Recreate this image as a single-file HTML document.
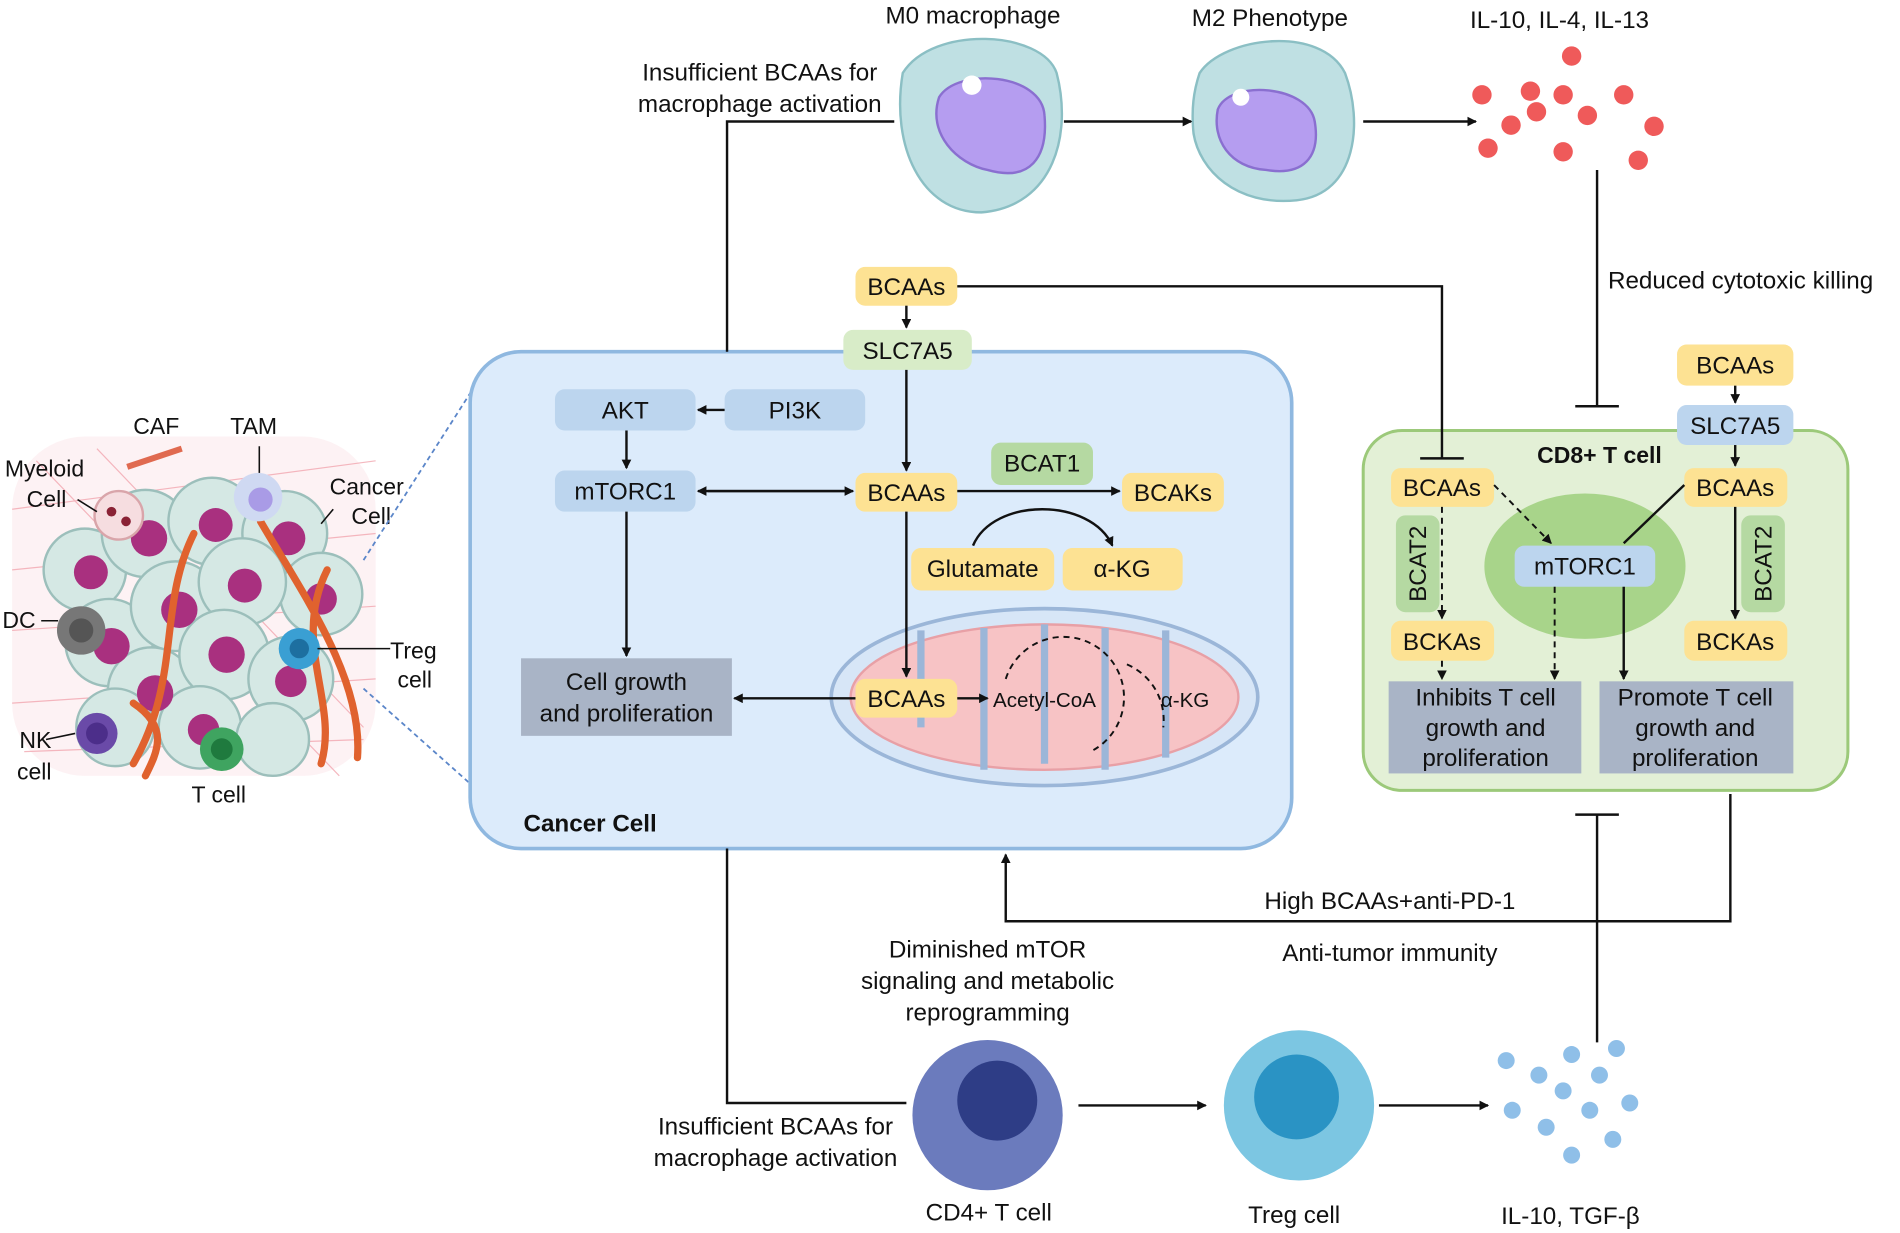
<!DOCTYPE html>
<html><head><meta charset="utf-8"><style>
html,body{margin:0;padding:0;background:#fff;}
svg{display:block;}
text{font-family:"Liberation Sans",Arial,sans-serif;fill:#111;}
</style></head><body>
<svg width="1900" height="1233" viewBox="0 0 1568 1017" xmlns="http://www.w3.org/2000/svg">
<defs>
<marker id="a" markerWidth="8" markerHeight="8" refX="7" refY="4" orient="auto" markerUnits="userSpaceOnUse"><path d="M0,0 L8,4 L0,8 z" fill="#111"/></marker>
</defs>
<style>.y{fill:#fde293}.b{fill:#bcd5ee}.g{fill:#b5d9a2}.l{stroke:#111;stroke-width:2;fill:none}.d{stroke:#111;stroke-width:1.6;fill:none;stroke-dasharray:5,4}.t{font-size:20px}.s{font-size:19px}</style>

<!-- tumor illustration -->
<g>
<rect x="10" y="360" width="300" height="280" fill="#fbe9ec" opacity="0.6" rx="60"/>
<g stroke="#f2a7b0" stroke-width="1" opacity="0.8">
<path d="M10,420 L310,380 M10,470 L310,440 M10,520 L310,500 M10,580 L310,560 M20,620 L300,610 M30,380 L280,640 M80,370 L300,600"/>
</g>
<g fill="#d5e8e4" stroke="#9cbfbb" stroke-width="2">
<circle cx="70" cy="470" r="34"/><circle cx="120" cy="440" r="36"/><circle cx="175" cy="430" r="36"/><circle cx="235" cy="440" r="35"/><circle cx="265" cy="490" r="34"/>
<circle cx="90" cy="530" r="36"/><circle cx="145" cy="500" r="37"/><circle cx="200" cy="480" r="36"/><circle cx="125" cy="570" r="36"/><circle cx="185" cy="540" r="37"/><circle cx="240" cy="560" r="35"/><circle cx="95" cy="600" r="32"/><circle cx="165" cy="600" r="34"/><circle cx="225" cy="610" r="30"/>
</g>
<g fill="#a9307f">
<circle cx="75" cy="472" r="14"/><circle cx="123" cy="444" r="15"/><circle cx="178" cy="433" r="14"/><circle cx="238" cy="444" r="14"/><circle cx="265" cy="494" r="13"/><circle cx="92" cy="533" r="15"/><circle cx="148" cy="503" r="15"/><circle cx="202" cy="483" r="14"/><circle cx="128" cy="572" r="15"/><circle cx="187" cy="540" r="15"/><circle cx="240" cy="562" r="13"/><circle cx="168" cy="602" r="13"/>
</g>
<g stroke="#e0622e" stroke-width="6" fill="none" stroke-linecap="round">
<path d="M160,440 C130,500 150,560 110,630"/><path d="M215,430 C250,490 300,560 295,625"/><path d="M270,470 C240,530 280,580 265,630"/><path d="M110,580 C140,600 130,620 120,640"/>
</g>
<circle cx="98" cy="425" r="20" fill="#f6dde0" stroke="#d9a5aa" stroke-width="2"/><circle cx="92" cy="422" r="4" fill="#8a2235"/><circle cx="104" cy="430" r="4" fill="#8a2235"/>
<circle cx="213" cy="410" r="20" fill="#cfd9f2"/><circle cx="215" cy="412" r="10" fill="#a99be6"/>
<circle cx="67" cy="520" r="20" fill="#777"/><circle cx="67" cy="520" r="10" fill="#555"/>
<circle cx="80" cy="605" r="17" fill="#6a4aa8"/><circle cx="80" cy="605" r="9" fill="#4c2e8a"/>
<circle cx="183" cy="618" r="18" fill="#3fa460"/><circle cx="183" cy="618" r="9" fill="#1f7a3e"/>
<circle cx="247" cy="535" r="17" fill="#3a9fd3"/><circle cx="247" cy="535" r="8" fill="#1d6fa0"/>
<path d="M105,385 L150,370" stroke="#e06a50" stroke-width="5"/>
</g>
<g class="s">
<text x="110" y="358">CAF</text><text x="190" y="358">TAM</text>
<text x="4" y="393">Myeloid</text><text x="22" y="418">Cell</text>
<text x="272" y="408">Cancer</text><text x="290" y="432">Cell</text>
<text x="2" y="518">DC</text><text x="322" y="543">Treg</text><text x="328" y="567">cell</text>
<text x="16" y="617">NK</text><text x="14" y="643">cell</text><text x="158" y="662">T cell</text>
</g>
<g stroke="#111" stroke-width="1.3"><path d="M64,412 L80,422"/><path d="M214,368 L214,390"/><path d="M275,420 L265,432"/><path d="M34,512 L48,512"/><path d="M262,535 L322,535"/><path d="M38,610 L62,605"/></g>
<path d="M300,462 L392,318 M300,568 L392,650" stroke="#5b86c9" stroke-width="1.5" stroke-dasharray="4,3"/>

<!-- cancer cell box -->
<rect x="388" y="290" width="678" height="410" rx="42" fill="#dcebfb" stroke="#8fb8e0" stroke-width="3"/>
<text x="432" y="686" style="font-size:20px;font-weight:bold">Cancer Cell</text>

<!-- mitochondria -->
<ellipse cx="862" cy="575" rx="176" ry="73" fill="#d7e6f7" stroke="#9bb6d8" stroke-width="3"/>
<ellipse cx="862" cy="575" rx="160" ry="60" fill="#f7c3c5" stroke="#e8a0a6" stroke-width="2"/>
<g stroke="#9bb6d8" stroke-width="6" fill="none"><path d="M760,520 L760,600 M812,518 L812,635 M862,515 L862,630 M912,518 L912,635 M962,520 L962,625"/></g>
<path d="M830,560 A50,50 0 1,1 900,620" class="d"/><path d="M930,548 A50,50 0 0,1 960,600" class="d"/>

<rect x="706" y="220" width="84" height="32" rx="8" class="y"/><text x="748" y="243" class="t" text-anchor="middle">BCAAs</text>
<rect x="696" y="272" width="106" height="33" rx="8" fill="#d8ecc8"/><text x="749" y="296" class="t" text-anchor="middle">SLC7A5</text>
<rect x="458" y="321" width="116" height="34" rx="8" class="b"/><text x="516" y="345" class="t" text-anchor="middle">AKT</text>
<rect x="598" y="321" width="116" height="34" rx="8" class="b"/><text x="656" y="345" class="t" text-anchor="middle">PI3K</text>
<rect x="458" y="388" width="116" height="34" rx="8" class="b"/><text x="516" y="412" class="t" text-anchor="middle">mTORC1</text>
<rect x="706" y="390" width="84" height="32" rx="8" class="y"/><text x="748" y="413" class="t" text-anchor="middle">BCAAs</text>
<rect x="818" y="365" width="84" height="35" rx="8" class="g"/><text x="860" y="389" class="t" text-anchor="middle">BCAT1</text>
<rect x="926" y="390" width="84" height="32" rx="8" class="y"/><text x="968" y="413" class="t" text-anchor="middle">BCAKs</text>
<rect x="752" y="452" width="118" height="35" rx="8" class="y"/><text x="811" y="476" class="t" text-anchor="middle">Glutamate</text>
<rect x="877" y="452" width="99" height="35" rx="8" class="y"/><text x="926" y="476" class="t" text-anchor="middle">α-KG</text>
<rect x="430" y="543" width="174" height="64" fill="#a9b4c6"/><text x="517" y="569" class="t" text-anchor="middle">Cell growth</text><text x="517" y="595" class="t" text-anchor="middle">and proliferation</text>
<rect x="706" y="560" width="84" height="32" rx="8" class="y"/><text x="748" y="583" class="t" text-anchor="middle">BCAAs</text>
<text x="862" y="583" style="font-size:17px" text-anchor="middle">Acetyl-CoA</text><text x="978" y="583" style="font-size:17px" text-anchor="middle">α-KG</text>

<path d="M748,252 L748,270" class="l" marker-end="url(#a)"/>
<path d="M748,305 L748,388" class="l" marker-end="url(#a)"/>
<path d="M598,338 L576,338" class="l" marker-end="url(#a)"/>
<path d="M517,355 L517,386" class="l" marker-end="url(#a)"/>
<path d="M584,405 L704,405" class="l" marker-end="url(#a)"/><path d="M700,405 L576,405" class="l" marker-end="url(#a)"/>
<path d="M790,405 L924,405" class="l" marker-end="url(#a)"/>
<path d="M803,450 C820,410 900,410 918,450" class="l" marker-end="url(#a)"/>
<path d="M517,422 L517,541" class="l" marker-end="url(#a)"/>
<path d="M748,422 L748,558" class="l" marker-end="url(#a)"/>
<path d="M706,576 L606,576" class="l" marker-end="url(#a)"/>
<path d="M790,576 L815,576" class="l" marker-end="url(#a)"/>

<!-- top -->
<path d="M600,290 L600,100 L738,100" class="l"/>
<text x="627" y="66" class="t" text-anchor="middle">Insufficient BCAAs for</text><text x="627" y="92" class="t" text-anchor="middle">macrophage activation</text>
<text x="803" y="19" class="t" text-anchor="middle">M0 macrophage</text>
<text x="1048" y="21" class="t" text-anchor="middle">M2 Phenotype</text>
<text x="1287" y="23" class="t" text-anchor="middle">IL-10, IL-4, IL-13</text>
<path d="M745,60 C770,20 860,25 872,60 C885,110 870,170 810,175 C760,175 735,120 745,60 z" fill="#bfe0e3" stroke="#8bbfc4" stroke-width="2"/>
<path d="M775,80 C790,55 860,60 862,95 C865,130 850,150 815,140 C790,135 765,110 775,80 z" fill="#b59df0" stroke="#8a6fd0" stroke-width="2"/>
<circle cx="802" cy="70" r="8" fill="#fff"/>
<path d="M990,60 C1010,30 1090,20 1110,60 C1125,100 1120,160 1070,165 C1020,170 990,140 985,110 C983,90 985,75 990,60 z" fill="#bfe0e3" stroke="#8bbfc4" stroke-width="2"/>
<path d="M1005,90 C1015,65 1080,70 1085,100 C1090,130 1075,145 1045,140 C1015,138 1000,115 1005,90 z" fill="#b59df0" stroke="#8a6fd0" stroke-width="2"/>
<circle cx="1024" cy="80" r="7" fill="#fff"/>
<path d="M878,100 L983,100" class="l" marker-end="url(#a)"/>
<path d="M1125,100 L1218,100" class="l" marker-end="url(#a)"/>
<g fill="#ef5a5a"><circle cx="1297" cy="46" r="8"/><circle cx="1223" cy="78" r="8"/><circle cx="1263" cy="75" r="8"/><circle cx="1290" cy="78" r="8"/><circle cx="1340" cy="78" r="8"/><circle cx="1268" cy="92" r="8"/><circle cx="1310" cy="95" r="8"/><circle cx="1247" cy="103" r="8"/><circle cx="1365" cy="104" r="8"/><circle cx="1228" cy="122" r="8"/><circle cx="1290" cy="125" r="8"/><circle cx="1352" cy="132" r="8"/></g>
<path d="M1318,140 L1318,335 M1300,335 L1336,335" class="l"/>
<text x="1327" y="238" class="t">Reduced cytotoxic killing</text>

<!-- CD8 -->
<rect x="1125" y="355" width="400" height="297" rx="32" fill="#e3f0d6" stroke="#9cc97a" stroke-width="2.5"/>
<path d="M790,236 L1190,236 L1190,378 M1172,378 L1208,378" class="l"/>
<ellipse cx="1308" cy="467" rx="83" ry="60" fill="#a8d48a"/>
<text x="1320" y="382" style="font-size:19px;font-weight:bold" text-anchor="middle">CD8+ T cell</text>
<rect x="1384" y="284" width="96" height="34" rx="8" class="y"/><text x="1432" y="308" class="t" text-anchor="middle">BCAAs</text>
<rect x="1384" y="334" width="96" height="33" rx="8" class="b"/><text x="1432" y="358" class="t" text-anchor="middle">SLC7A5</text>
<rect x="1148" y="386" width="85" height="32" rx="8" class="y"/><text x="1190" y="409" class="t" text-anchor="middle">BCAAs</text>
<rect x="1390" y="386" width="85" height="32" rx="8" class="y"/><text x="1432" y="409" class="t" text-anchor="middle">BCAAs</text>
<rect x="1250" y="450" width="116" height="34" rx="8" class="b"/><text x="1308" y="474" class="t" text-anchor="middle">mTORC1</text>
<rect x="1152" y="425" width="36" height="80" rx="8" class="g"/><text transform="translate(1177,465) rotate(-90)" class="t" text-anchor="middle">BCAT2</text>
<rect x="1437" y="425" width="36" height="80" rx="8" class="g"/><text transform="translate(1462,465) rotate(-90)" class="t" text-anchor="middle">BCAT2</text>
<rect x="1148" y="512" width="85" height="33" rx="8" class="y"/><text x="1190" y="536" class="t" text-anchor="middle">BCKAs</text>
<rect x="1390" y="512" width="85" height="33" rx="8" class="y"/><text x="1432" y="536" class="t" text-anchor="middle">BCKAs</text>
<rect x="1146" y="562" width="159" height="76" fill="#a9b4c6"/>
<text x="1226" y="582" class="t" text-anchor="middle">Inhibits T cell</text><text x="1226" y="607" class="t" text-anchor="middle">growth and</text><text x="1226" y="632" class="t" text-anchor="middle">proliferation</text>
<rect x="1320" y="562" width="160" height="76" fill="#a9b4c6"/>
<text x="1399" y="582" class="t" text-anchor="middle">Promote T cell</text><text x="1399" y="607" class="t" text-anchor="middle">growth and</text><text x="1399" y="632" class="t" text-anchor="middle">proliferation</text>
<path d="M1432,318 L1432,332" class="l" marker-end="url(#a)"/>
<path d="M1432,367 L1432,384" class="l" marker-end="url(#a)"/>
<path d="M1190,418 L1190,510" class="d" marker-end="url(#a)"/>
<path d="M1432,418 L1432,510" class="l" marker-end="url(#a)"/>
<path d="M1233,400 L1280,448" class="d" marker-end="url(#a)"/>
<path d="M1390,400 L1340,448" class="l"/>
<path d="M1190,545 L1190,560" class="d" marker-end="url(#a)"/>
<path d="M1283,484 L1283,560" class="d" marker-end="url(#a)"/>
<path d="M1340,484 L1340,560" class="l" marker-end="url(#a)"/>

<!-- bottom -->
<path d="M1428,655 L1428,760 L830,760 L830,705" class="l" marker-end="url(#a)"/>
<text x="1147" y="750" class="t" text-anchor="middle">High BCAAs+anti-PD-1</text>
<text x="1147" y="793" class="t" text-anchor="middle">Anti-tumor immunity</text>
<path d="M1318,860 L1318,672 M1300,672 L1336,672" class="l"/>
<path d="M600,700 L600,910 L748,910" class="l"/>
<text x="815" y="790" class="t" text-anchor="middle">Diminished mTOR</text><text x="815" y="816" class="t" text-anchor="middle">signaling and metabolic</text><text x="815" y="842" class="t" text-anchor="middle">reprogramming</text>
<text x="640" y="936" class="t" text-anchor="middle">Insufficient BCAAs for</text><text x="640" y="962" class="t" text-anchor="middle">macrophage activation</text>
<circle cx="815" cy="920" r="62" fill="#6b7bbd"/><circle cx="823" cy="908" r="33" fill="#2e3d86"/>
<circle cx="1072" cy="912" r="62" fill="#7cc6e2"/><circle cx="1070" cy="905" r="35" fill="#2a93c4"/>
<path d="M890,912 L995,912" class="l" marker-end="url(#a)"/>
<path d="M1138,912 L1228,912" class="l" marker-end="url(#a)"/>
<g fill="#8fbfe8"><circle cx="1243" cy="875" r="7"/><circle cx="1297" cy="870" r="7"/><circle cx="1334" cy="865" r="7"/><circle cx="1270" cy="887" r="7"/><circle cx="1320" cy="887" r="7"/><circle cx="1290" cy="900" r="7"/><circle cx="1248" cy="916" r="7"/><circle cx="1312" cy="916" r="7"/><circle cx="1345" cy="910" r="7"/><circle cx="1276" cy="930" r="7"/><circle cx="1331" cy="940" r="7"/><circle cx="1297" cy="953" r="7"/></g>
<text x="816" y="1007" class="t" text-anchor="middle">CD4+ T cell</text>
<text x="1068" y="1009" class="t" text-anchor="middle">Treg cell</text>
<text x="1296" y="1010" class="t" text-anchor="middle">IL-10, TGF-β</text>
</svg>
</body></html>
